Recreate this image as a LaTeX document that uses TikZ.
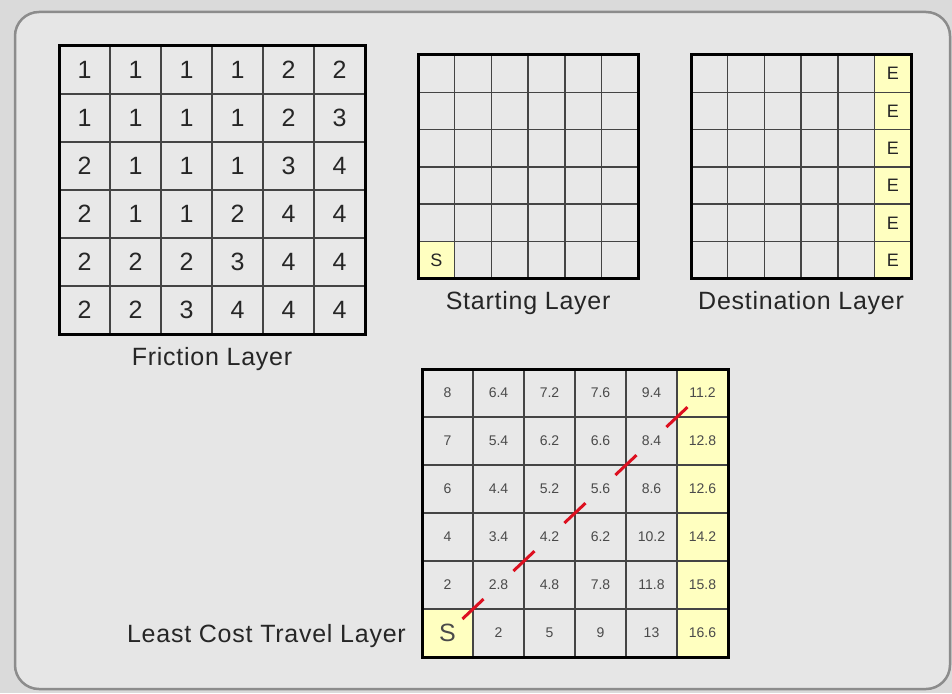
\documentclass[tikz,border=0pt]{standalone}
\usepackage{fontspec}
\setmainfont{Liberation Sans}
\usetikzlibrary{positioning}
\definecolor{outside}{HTML}{DADADA}
\definecolor{panelgrey}{HTML}{E6E6E6}
\definecolor{panelline}{HTML}{8C8C8C}
\definecolor{cellgrey}{HTML}{E8E8E8}
\definecolor{cellyellow}{HTML}{FFFFC0}
\definecolor{gridline}{HTML}{444444}
\definecolor{digit}{HTML}{262626}
\definecolor{costtext}{HTML}{4A4A4A}
\definecolor{routered}{HTML}{DD1020}
\newcommand{\frictionfont}{\fontsize{25}{25}\selectfont}
\newcommand{\markfont}{\fontsize{18}{18}\selectfont}
\newcommand{\costfont}{\fontsize{14}{14}\selectfont}
\newcommand{\labelfont}{\fontsize{25}{25}\selectfont\addfontfeature{LetterSpace=3}}

\begin{document}
\begin{tikzpicture}[x=1pt, y=-1pt,
  cell/.style={draw=gridline, line width=1.5pt, fill=cellgrey,
    minimum width=51pt, minimum height=48pt, inner sep=0pt, outer sep=0pt,
    text=digit},
  small cell/.style={cell, minimum width=36.7pt, minimum height=37.3pt},
  frame/.style={draw=black, line width=3pt},
  layer/.style={font=\labelfont, text=digit, inner sep=0pt},
  route/.style={draw=routered, line width=3pt, dash pattern=on 29pt off 41pt,
    shorten <=-14.5pt, shorten >=-14.5pt}]
\useasboundingbox (0,0) rectangle (952,693);
\fill[outside] (0,0) rectangle (952,693);
\draw[fill=panelgrey, draw=panelline, line width=2.5pt, rounded corners=24pt]
  (15,12) rectangle (950,689);

% friction layer
\foreach \vals [count=\r] in {{1,1,1,1,2,2},{1,1,1,1,2,3},{2,1,1,1,3,4},
    {2,1,1,2,4,4},{2,2,2,3,4,4},{2,2,3,4,4,4}}
  \foreach \v [count=\c] in \vals
    \node[cell, font=\frictionfont] (fr-\r-\c)
      at ({59+(\c-0.5)*51}, {46+(\r-0.5)*48}) {\v};
\draw[frame] (fr-1-1.north west) rectangle (fr-6-6.south east);
\node[layer, below=13pt of fr-6-3.south east] (fr-label) {Friction Layer};

% starting layer
\foreach \r in {1,...,6}
  \foreach \c in {1,...,6} {
    \def\cellfill{cellgrey}\def\celltext{}
    \ifnum\r=6 \ifnum\c=1 \def\cellfill{cellyellow}\def\celltext{S}\fi\fi
    \node[small cell, fill=\cellfill, font=\markfont] (st-\r-\c)
      at ({418+(\c-0.5)*36.7}, {55+(\r-0.5)*37.3}) {\celltext};
  }
\draw[frame] (st-1-1.north west) rectangle (st-6-6.south east);
\node[layer, below=12pt of st-6-3.south east] (st-label) {Starting Layer};

% destination layer
\foreach \r in {1,...,6}
  \foreach \c in {1,...,6} {
    \def\cellfill{cellgrey}\def\celltext{}
    \ifnum\c=6 \def\cellfill{cellyellow}\def\celltext{E}\fi
    \node[small cell, fill=\cellfill, font=\markfont] (de-\r-\c)
      at ({691+(\c-0.5)*36.7}, {55+(\r-0.5)*37.3}) {\celltext};
  }
\draw[frame] (de-1-1.north west) rectangle (de-6-6.south east);
\node[layer, below=12pt of de-6-3.south east] (de-label) {Destination Layer};

% least cost travel layer
\foreach \vals [count=\r] in {{8,6.4,7.2,7.6,9.4,11.2},{7,5.4,6.2,6.6,8.4,12.8},
    {6,4.4,5.2,5.6,8.6,12.6},{4,3.4,4.2,6.2,10.2,14.2},
    {2,2.8,4.8,7.8,11.8,15.8},{S,2,5,9,13,16.6}}
  \foreach \v [count=\c] in \vals {
    \def\cellfill{cellgrey}\let\cellfont\costfont
    \ifnum\c=6 \def\cellfill{cellyellow}\fi
    \ifnum\r=6 \ifnum\c=1 \def\cellfill{cellyellow}\let\cellfont\frictionfont\fi\fi
    \node[cell, fill=\cellfill, font=\cellfont, text=costtext] (lc-\r-\c)
      at ({422+(\c-0.5)*51}, {369+(\r-0.5)*48}) {\v};
  }
\draw[frame] (lc-1-1.north west) rectangle (lc-6-6.south east);
\node[layer, left=16pt of lc-6-1.west, yshift=-3pt] (lc-label) {Least Cost Travel Layer};
\draw[route] (lc-6-1.north east) -- (lc-1-6.south west);
\end{tikzpicture}
\end{document}
